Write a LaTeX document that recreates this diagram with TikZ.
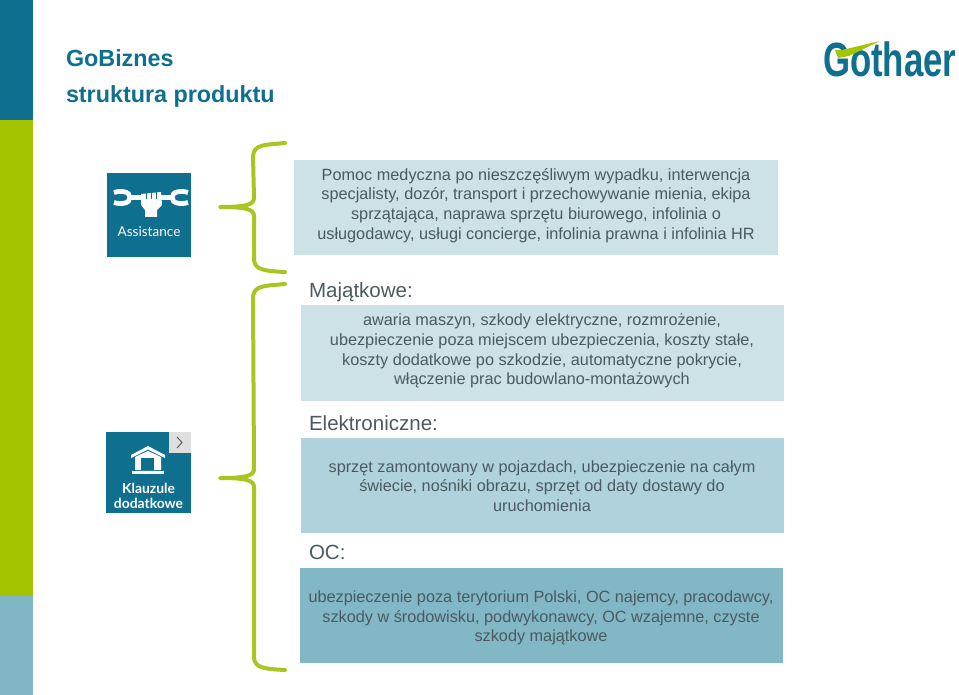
\documentclass[tikz,border=0pt]{standalone}
\usepackage{fontspec}
\setmainfont{Liberation Sans}
\newfontfamily\iconfont{Lato}
\usetikzlibrary{positioning}
\definecolor{tealdark}{HTML}{0E6F8E}
\definecolor{limegreen}{HTML}{A5C400}
\definecolor{bracegreen}{HTML}{A9C520}
\definecolor{barblue}{HTML}{80B6C6}
\definecolor{boxa}{HTML}{CCE2E7}
\definecolor{boxb}{HTML}{AFD2DC}
\definecolor{boxc}{HTML}{82B7C6}
\definecolor{textgrey}{HTML}{4A5A60}
\begin{document}
\begin{tikzpicture}[x=0.75pt,y=-0.75pt,inner sep=0pt,outer sep=0pt]
	\tikzstyle{infobox}=[anchor=center,align=center,text=textgrey,font=\fontsize{12.2}{14.8}\selectfont]
	\tikzstyle{heading}=[anchor=base west,text=textgrey,font=\fontsize{15.4}{18}\selectfont]
	\tikzstyle{title}=[anchor=base west,text=tealdark,font=\fontsize{17.5}{20}\selectfont\bfseries]
	\tikzstyle{brace}=[draw=bracegreen,line width=3pt,line cap=round,line join=round]
	\tikzstyle{icon}=[fill=white,draw=none]
	\tikzstyle{wrench}=[draw=white,line width=3.6pt]

	\useasboundingbox (0,0) rectangle (959,695);

	% side bar
	\fill[tealdark] (0,0) rectangle (33,120);
	\fill[limegreen] (0,120) rectangle (33,596);
	\fill[barblue] (0,596) rectangle (33,695);

	\node[title] (title1) at (66,67) {GoBiznes};
	\node[title] (title2) at (66,103) {struktura produktu};

	% logo
	\node[anchor=base west,text=tealdark,font=\fontsize{36}{36}\selectfont\bfseries,xscale=0.725] (logo) at (823,77) {Gothaer};
	\fill[limegreen] (835,50) -- (842,50) -- (880,41) -- (849,56) -- (838,58) -- cycle;

	% text boxes
	\fill[boxa] (294,160) rectangle (778,255);
	\fill[boxa] (301,305) rectangle (784,401);
	\fill[boxb] (301,438) rectangle (784,533);
	\fill[boxc] (300,568) rectangle (783,663);
	\node[infobox] (help) at (536,205.5) {Pomoc medyczna po nieszczęśliwym wypadku, interwencja\\specjalisty, dozór, transport i przechowywanie mienia, ekipa\\sprzątająca, naprawa sprzętu biurowego, infolinia o\\usługodawcy, usługi concierge, infolinia prawna i infolinia HR};
	\node[infobox] (majtext) at (542,351) {awaria maszyn, szkody elektryczne, rozmrożenie,\\ubezpieczenie poza miejscem ubezpieczenia, koszty stałe,\\koszty dodatkowe po szkodzie, automatyczne pokrycie,\\włączenie prac budowlano-montażowych};
	\node[infobox] (eltext) at (542,486) {sprzęt zamontowany w pojazdach, ubezpieczenie na całym\\świecie, nośniki obrazu, sprzęt od daty dostawy do\\uruchomienia};
	\node[infobox] (octext) at (541,618) {ubezpieczenie poza terytorium Polski, OC najemcy, pracodawcy,\\szkody w środowisku, podwykonawcy, OC wzajemne, czyste\\szkody majątkowe};

	\node[heading] (maj) at (309,297) {Majątkowe:};
	\node[heading] (el) at (309,430) {Elektroniczne:};
	\node[heading] (oc) at (309,559) {OC:};

	% braces
	\draw[brace] (285,143) .. controls (265,145) and (254,144) .. (253,156) -- (254,198) .. controls (254,205) and (245,207) .. (220,207) .. controls (245,207) and (254,209) .. (254,216) -- (254,260) .. controls (255,270) and (265,271) .. (285,272);
	\draw[brace] (285,284) .. controls (265,286) and (254,285) .. (253,297) -- (254,469) .. controls (254,476) and (245,478) .. (220,478) .. controls (245,478) and (254,480) .. (254,487) -- (254,658) .. controls (255,668) and (265,669) .. (285,670);

	% assistance icon
	\fill[tealdark] (107,173) rectangle (191,257);
	\draw[wrench] (114,192.5) .. controls (120,190.5) and (130,191) .. (130,197.5) .. controls (130,204) and (120,204.5) .. (114,202.5);
	\draw[wrench] (188,192.5) .. controls (182,190.5) and (172,191) .. (172,197.5) .. controls (172,204) and (182,204.5) .. (188,202.5);
	\draw[wrench] (130,197.5) -- (143,197.5) (159,197.5) -- (172,197.5);
	\fill[icon] (141,194) -- (161,192) -- (162,205) -- (157,210) -- (157,217) -- (145,217) -- (145,210) -- (141,205) -- cycle;
	\draw[tealdark,line width=0.6pt] (146,192) -- (146,199) (151,192) -- (151,199) (156,192) -- (156,199);
	\node[text=white,font=\fontsize{10.2}{11}\selectfont\iconfont] (asstext) at (149,232) {Assistance};

	% klauzule icon
	\fill[tealdark] (106,432) rectangle (191,513);
	\fill[gray!25] (169,432) rectangle (191,453);
	\draw[gray!70!black,line width=0.7pt] (177,437) -- (182,442.5) -- (177,448);
	\fill[icon] (131,455) -- (148,446) -- (165,455) -- (165,458) -- (148,449.5) -- (131,458) -- cycle;
	\fill[icon] (135,457) -- (148,451) -- (161,457) -- (161,470) -- (135,470) -- cycle;
	\fill[icon] (132,471) rectangle (164,473.5);
	\fill[tealdark] (141,458) rectangle (154,470);
	\node[align=center,text=white,font=\fontsize{10.4}{11}\selectfont\iconfont\bfseries] (klauztext) at (148.5,496) {Klauzule\\dodatkowe};
\end{tikzpicture}
\end{document}
